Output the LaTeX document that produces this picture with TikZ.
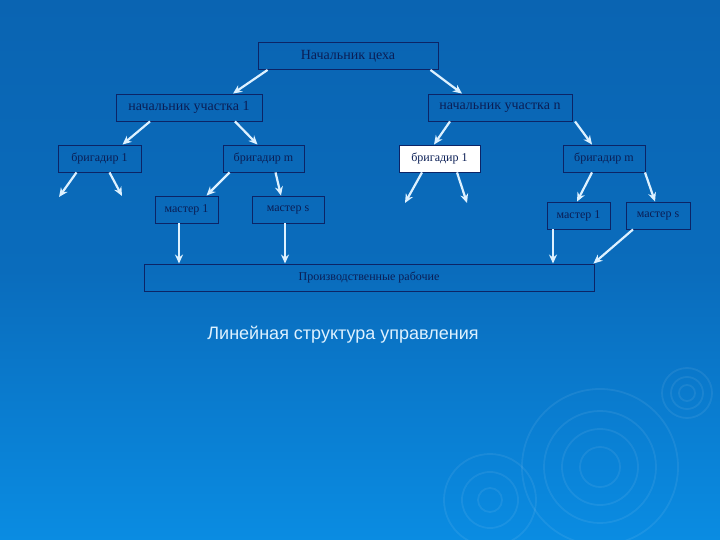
\documentclass[tikz,border=0pt]{standalone}
\usepackage{fontspec}
\setmainfont{Liberation Serif}
\newfontfamily\titlefont{Liberation Sans}
\usetikzlibrary{calc}
\usetikzlibrary{arrows.meta}

\definecolor{bgtop}{HTML}{0A64B2}
\definecolor{bgmid}{HTML}{0A6CBC}
\definecolor{bgbot}{HTML}{0A8CE2}
\definecolor{boxline}{HTML}{0C2466}
\definecolor{boxtext}{HTML}{0A1E55}
\definecolor{arrowcol}{HTML}{DDF1FF}

\tikzset{
  post/.style={draw=boxline, line width=0.9pt, text=boxtext, font=\fontsize{12}{14}\selectfont, minimum height=27pt, inner sep=1pt},
  bigpost/.style={post, font=\fontsize{14}{16}\selectfont},
  link/.style={draw=arrowcol, line width=2.2pt, -{Stealth[length=9pt,width=8pt]}},
  ripple/.style={draw=white, draw opacity=0.07, line width=1.8pt}
}

\begin{document}
\begin{tikzpicture}[x=1pt,y=-1pt]
\useasboundingbox (0,0) rectangle (720,540);
% background
\shade[top color=bgtop, bottom color=bgbot, middle color=bgmid] (0,0) rectangle (720,540);
\foreach \r in {20,38,56,78} {\draw[ripple] (600,467) circle (\r);}
\foreach \r in {12,28,46} {\draw[ripple] (490,500) circle (\r);}
\foreach \r in {8,16,25} {\draw[ripple] (687,393) circle (\r);}

\node[bigpost, minimum width=180pt] (ceh) at (348,56) {Начальник цеха};
\node[bigpost, minimum width=146pt] (nu1) at (189,107.5) {начальник участка 1};
\node[bigpost, minimum width=144pt] (nun) at (500,107.5) {начальник участка n};
\node[post, minimum width=83pt] (b1L) at (99.5,158.5) {бригадир 1};
\node[post, minimum width=81pt] (bmL) at (263.5,158.5) {бригадир m};
\node[post, minimum width=81pt, fill=white] (b1R) at (439.5,158.5) {бригадир 1};
\node[post, minimum width=82pt] (bmR) at (604,158.5) {бригадир m};
\node[post, minimum width=63pt] (m1L) at (186.5,209.5) {мастер 1};
\node[post, minimum width=72pt] (msL) at (288,209.5) {мастер s};
\node[post, minimum width=63pt] (m1R) at (578.5,215.5) {мастер 1};
\node[post, minimum width=64pt] (msR) at (658,215.5) {мастер s};
\node[post, minimum width=450pt] (rab) at (369,277.5) {Производственные рабочие};

\coordinate (f1) at (59,197);
\coordinate (f2) at (122,196);
\coordinate (f3) at (405,203);
\coordinate (f4) at (467,203);

%
\draw[link] ($(ceh.south west)+(10,0)$) -- ($(nu1.north)+(44,0)$); %1
\draw[link] ($(ceh.south east)+(-8,0)$) -- ($(nun.north)+(-38,0)$);
%
\draw[link] ($(nu1.south)+(-39,0)$) -- ($(b1L.north)+(23,0)$); %2
\draw[link] ($(nu1.south)+(46,0)$) -- ($(bmL.north)+(-6,0)$);
\draw[link] ($(b1L.south)+(-23,0)$) -- (f1);
\draw[link] ($(b1L.south)+(10,0)$) -- (f2);
\draw[link] ($(bmL.south)+(-34,0)$) -- ($(m1L.north)+(20,0)$);
\draw[link] ($(bmL.south)+(12,0)$) -- ($(msL.north)+(-7,0)$);
\draw[link] ($(m1L.south)+(-7.5,0)$) coordinate (p1) -- (p1 |- rab.north);
\draw[link] ($(msL.south)+(-3,0)$) coordinate (p2) -- (p2 |- rab.north);
%
\draw[link] ($(nun.south)+(-50,0)$) -- ($(b1R.north)+(-5.5,0)$); %3
\draw[link] ($(nun.south)+(75,0)$) -- ($(bmR.north)+(-12,0)$);
\draw[link] ($(b1R.south)+(-17.5,0)$) -- (f3);
\draw[link] ($(b1R.south)+(17.5,0)$) -- (f4);
\draw[link] ($(bmR.south)+(-12,0)$) -- ($(m1R.north)+(-1.5,0)$);
\draw[link] ($(bmR.south)+(41,0)$) -- ($(msR.north)+(-3,0)$);
\draw[link] ($(m1R.south)+(-25.5,0)$) coordinate (p3) -- (p3 |- rab.north);
\draw[link] ($(msR.south)+(-25,0)$) -- ($(rab.north east)+(-1,0)$);
%

\node[text=arrowcol, font=\titlefont\fontsize{18}{21}\selectfont] (title) at (343,335) {Линейная структура управления};
\end{tikzpicture}
\end{document}
